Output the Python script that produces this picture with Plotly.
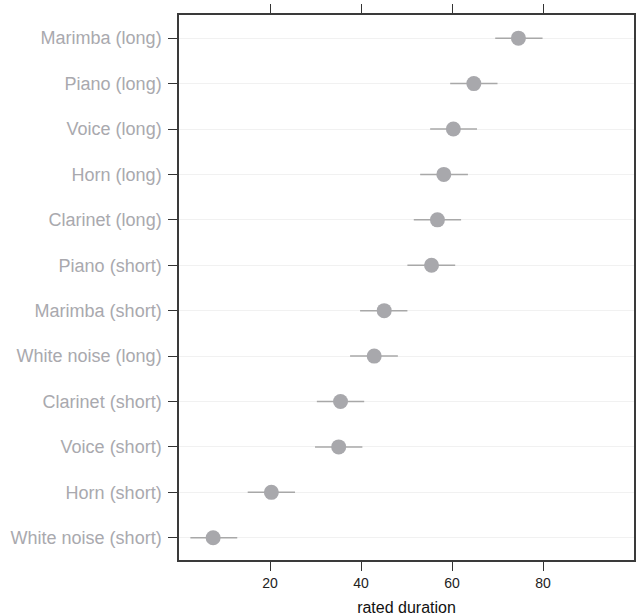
import plotly.graph_objects as go

# Sound categories, listed top to bottom
sounds = [
    "Marimba (long)", "Piano (long)", "Voice (long)", "Horn (long)",
    "Clarinet (long)", "Piano (short)", "Marimba (short)", "White noise (long)",
    "Clarinet (short)", "Voice (short)", "Horn (short)", "White noise (short)",
]
# Mean rated duration and interval bounds
mean_rating = [74.6, 64.8, 60.3, 58.2, 56.8, 55.5, 45.1, 42.9, 35.5, 35.1, 20.3, 7.5]
lower_bound = [69.5, 59.6, 55.2, 53.0, 51.6, 50.2, 39.8, 37.6, 30.3, 29.9, 15.1, 2.5]
upper_bound = [79.9, 70.0, 65.5, 63.5, 62.0, 60.7, 50.2, 48.1, 40.7, 40.3, 25.5, 12.8]
x_ticks = [20, 40, 60, 80]

err_plus = [u - m for u, m in zip(upper_bound, mean_rating)]
err_minus = [m - l for m, l in zip(mean_rating, lower_bound)]

fig = go.Figure(
    go.Scatter(
        x=mean_rating,
        y=sounds,
        mode="markers",
        marker=dict(size=15, color="#a8a8ac", line=dict(width=0)),
        error_x=dict(
            type="data", symmetric=False,
            array=err_plus, arrayminus=err_minus,
            color="#a8a8a8", thickness=1.5, width=0,
        ),
        showlegend=False,
    )
)

fig.update_layout(
    width=636, height=616,
    margin=dict(l=179, r=2, t=15, b=56),
    paper_bgcolor="white", plot_bgcolor="white",
    font=dict(family="Liberation Sans, Arial, sans-serif", color="#222222"),
)

fig.update_xaxes(
    range=[0, 100],
    tickvals=x_ticks,
    ticks="outside", ticklen=9, tickwidth=1.2, tickcolor="#333333",
    tickfont=dict(size=14, color="#222222"),
    showline=True, linecolor="#3a3a3a", linewidth=1.5, mirror="ticks",
    showgrid=False, zeroline=False, automargin=False,
    title=dict(text="rated duration", font=dict(size=16, color="#111111"), standoff=16),
)

fig.update_yaxes(
    categoryorder="array", categoryarray=sounds,
    range=[11.49, -0.51], autorange=False,
    ticks="outside", ticklen=9, tickwidth=1.2, tickcolor="#333333",
    tickfont=dict(size=18, color="#a9a9ae"),
    ticklabelstandoff=3,
    showline=True, linecolor="#3a3a3a", linewidth=1.5, mirror="ticks",
    showgrid=True, gridcolor="#f1f1f1", gridwidth=1.2, zeroline=False,
    automargin=False,
)

fig.write_html("out.html")
